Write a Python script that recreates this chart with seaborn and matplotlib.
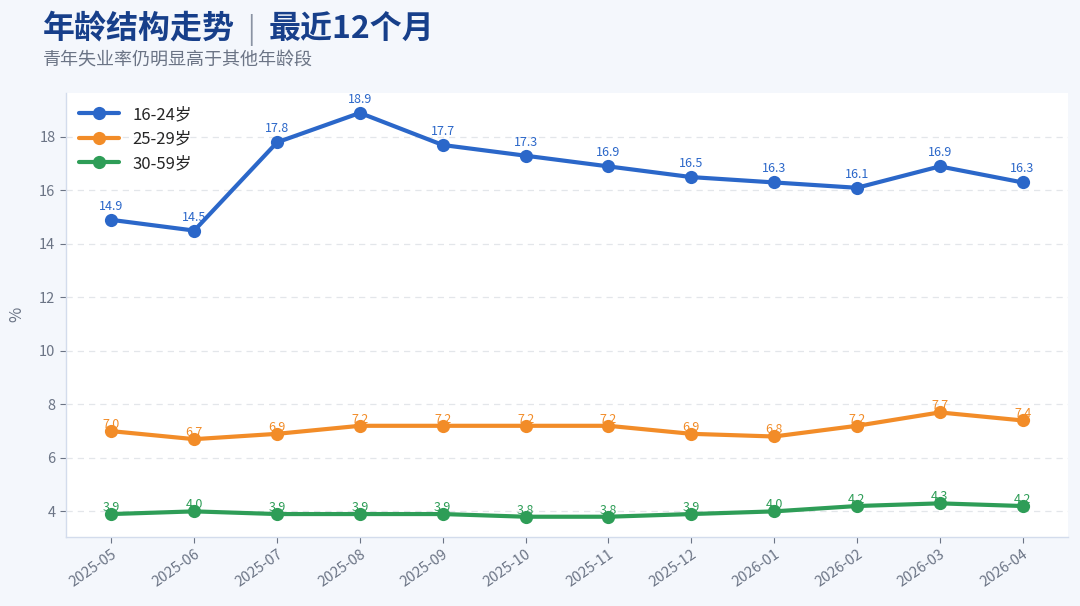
import numpy as np
import pandas as pd
import seaborn as sns
import matplotlib.pyplot as plt

# 数据
months = ['2025-05', '2025-06', '2025-07', '2025-08', '2025-09', '2025-10',
          '2025-11', '2025-12', '2026-01', '2026-02', '2026-03', '2026-04']
youth = [14.9, 14.5, 17.8, 18.9, 17.7, 17.3, 16.9, 16.5, 16.3, 16.1, 16.9, 16.3]
age_25_29 = [7.0, 6.7, 6.9, 7.2, 7.2, 7.2, 7.2, 6.9, 6.8, 7.2, 7.7, 7.4]
age_30_59 = [3.9, 4.0, 3.9, 3.9, 3.9, 3.8, 3.8, 3.9, 4.0, 4.2, 4.3, 4.2]
groups = ['16-24岁', '25-29岁', '30-59岁']
colors = {'16-24岁': '#2b67c9', '25-29岁': '#f28c28', '30-59岁': '#2e9d57'}

df = pd.DataFrame({
    'month': months * 3,
    'rate': youth + age_25_29 + age_30_59,
    'group': [g for g in groups for _ in months],
})

sns.set_theme(style='white')
plt.rcParams['font.family'] = ['Noto Sans CJK SC', 'DejaVu Sans']

fig = plt.figure(figsize=(10.8, 6.06), dpi=100, facecolor='#f4f7fc')
ax = fig.add_axes([0.061, 0.114, 0.928, 0.733])
ax.set_facecolor('white')

sns.lineplot(data=df, x='month', y='rate', hue='group', hue_order=groups,
             palette=colors, marker='o', markersize=9.5, markeredgewidth=0,
             linewidth=3, sort=False, ax=ax)

# 数据标签
offsets = {'16-24岁': 5, '25-29岁': 0, '30-59岁': 0}
for g in groups:
    sub = df[df['group'] == g]
    for i, v in enumerate(sub['rate']):
        ax.annotate(f'{v:.1f}', (i, v), xytext=(0, offsets[g]), textcoords='offset points',
                    ha='center', va='bottom', fontsize=9, color=colors[g])

ax.set_yticks(np.arange(4, 19, 2))
ax.grid(axis='y', linestyle=(0, (5, 4)), color='#e3e6ea', linewidth=0.9)
ax.set_xlabel('')
ax.set_ylabel('%', color='#6b7485', fontsize=12, labelpad=10)
ax.tick_params(axis='both', colors='#6b7485', labelsize=10.5, length=4, width=0.8, left=True, bottom=True)
plt.setp(ax.get_xticklabels(), rotation=35, ha='right', rotation_mode='anchor')
for s in ['top', 'right']:
    ax.spines[s].set_visible(False)
for s in ['left', 'bottom']:
    ax.spines[s].set_color('#d3dcec')
    ax.spines[s].set_linewidth(1)

leg = ax.legend(loc='upper left', frameon=False, fontsize=12, handlelength=2.4,
                borderaxespad=0.4, labelspacing=0.45)

fig.text(0.04, 0.951, '年龄结构走势', fontsize=23, fontweight='bold', color='#173f8a', va='center')
fig.text(0.229, 0.951, '|', fontsize=20, color='#8a93a3', va='center')
fig.text(0.249, 0.951, '最近12个月', fontsize=23, fontweight='bold', color='#173f8a', va='center')
fig.text(0.04, 0.9, '青年失业率仍明显高于其他年龄段', fontsize=13, color='#6b7485', va='center')

fig.savefig('out.png', dpi=100, facecolor=fig.get_facecolor())
